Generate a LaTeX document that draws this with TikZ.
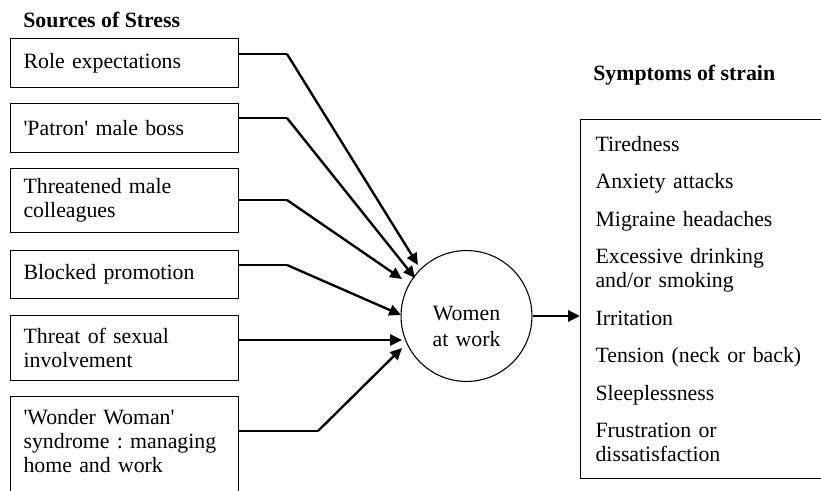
\documentclass[tikz,border=0pt]{standalone}
\usepackage{fontspec}
\setmainfont{Liberation Serif}
\usetikzlibrary{arrows.meta, positioning}
\frenchspacing
\tikzset{
    srcbox/.style={rectangle, draw, line width=0.6pt, anchor=north west, minimum width=125.4pt, text width=111.1pt, inner xsep=7.15pt, inner ysep=3pt, align=left, font=\fontsize{12pt}{13.2pt}\selectfont},
    symbox/.style={rectangle, draw, line width=0.6pt, anchor=north west, minimum height=197.45pt, text width=130pt, inner xsep=8.25pt, inner ysep=3pt, align=left, font=\fontsize{12pt}{13.2pt}\selectfont},
    hub/.style={circle, draw, line width=0.6pt, minimum size=72pt, inner sep=0pt, text width=60pt, align=center, text height=8.5pt, text depth=4pt, font=\fontsize{12pt}{14.3pt}\selectfont},
    head/.style={anchor=base west, inner sep=0pt, font=\fontsize{12pt}{13.2pt}\selectfont\bfseries},
    link/.style={line width=0.6pt},
    feed/.style={line width=1.3pt, -{Triangle[length=6.5pt, width=6pt]}}
}

\begin{document}
\begin{tikzpicture}[x=0.55pt, y=0.55pt]
    \path[use as bounding box] (0,0) rectangle (821,-491);
    \clip (0,0) rectangle (821,-491);

    % Headings
    \node[head] (srchead) at (23,-28) {Sources of Stress};
    \node[head] (symhead) at (593,-81) {Symptoms of strain};

    % Sources of stress
    \node[srcbox, minimum height=26.95pt] (b1) at (10,-38) {Role expectations};
    \node[srcbox, minimum height=26.95pt] (b2) at (10,-103) {\textquotesingle Patron\textquotesingle{} male boss};
    \node[srcbox, minimum height=35.2pt] (b3) at (10,-168) {Threatened male\\colleagues};
    \node[srcbox, minimum height=26.4pt] (b4) at (10,-250) {Blocked promotion};
    \node[srcbox, minimum height=35.75pt] (b5) at (10,-315) {Threat of sexual\\involvement};
    \node[srcbox, inner ysep=7pt, text depth=45pt] (b6) at (10,-396) {\textquotesingle Wonder Woman\textquotesingle\\syndrome : managing\\home and work};

    % Centre and symptoms
    \node[hub] (women) at (466.5,-316) {Women\\at work};
    \node[symbox] (symptoms) at (580,-119) {Tiredness\\[7.4pt]Anxiety attacks\\[7.4pt]Migraine headaches\\[7.4pt]Excessive drinking\\and/or smoking\\[7.4pt]Irritation\\[7.4pt]Tension (neck or back)\\[7.4pt]Sleeplessness\\[7.4pt]Frustration or\\dissatisfaction};

    % Bends and arrow ends
    \coordinate (k1) at (287,-54);
    \coordinate (k2) at (287,-118);
    \coordinate (k3) at (287,-200);
    \coordinate (k4) at (287,-265);
    \coordinate (k6) at (318,-431);
    \coordinate (t1) at ([shift={(133.6:70.4)}]women.center);
    \coordinate (t2) at ([shift={(143.6:64)}]women.center);
    \coordinate (t3) at ([shift={(150.2:74.4)}]women.center);
    \coordinate (t4) at ([shift={(179.1:65.5)}]women.center);
    \coordinate (t5) at ([shift={(200.4:68.8)}]women.center);
    \coordinate (t6) at ([shift={(206.4:72)}]women.center);

    % Connectors
    \draw[link] (b1.east |- k1) -- (k1);
    \draw[link] (b2.east |- k2) -- (k2);
    \draw[link] (b3.east |- k3) -- (k3);
    \draw[link] (b4.east |- k4) -- (k4);
    \draw[link] (b6.east |- k6) -- (k6);
    \draw[feed] (k1) -- (t1);
    \draw[feed] (k2) -- (t2);
    \draw[feed] (k3) -- (t3);
    \draw[feed] (k4) -- (t4);
    \draw[feed] (b5.east |- t5) -- (t5);
    \draw[feed] (k6) -- (t6);
    \draw[feed, line width=1.6pt] (women.east) -- (symptoms.west |- women.east);
\end{tikzpicture}
\end{document}
